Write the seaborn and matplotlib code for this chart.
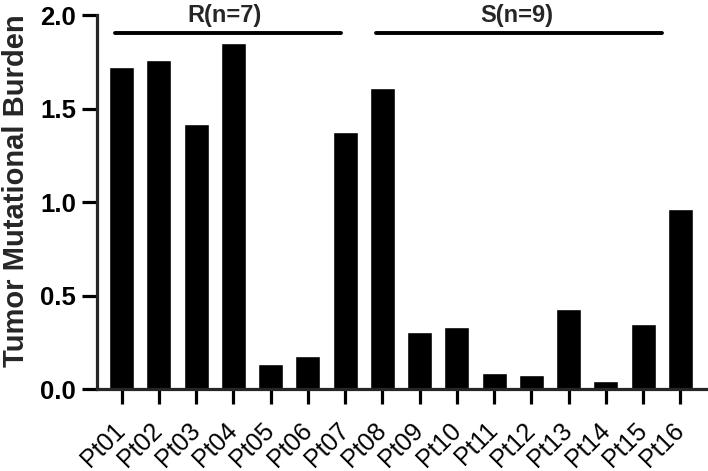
import matplotlib
matplotlib.use('Agg')
import matplotlib.pyplot as plt
import matplotlib.transforms as mtransforms
import seaborn as sns
import pandas as pd

# Data
patients = ['Pt01', 'Pt02', 'Pt03', 'Pt04', 'Pt05', 'Pt06', 'Pt07', 'Pt08',
            'Pt09', 'Pt10', 'Pt11', 'Pt12', 'Pt13', 'Pt14', 'Pt15', 'Pt16']
tmb = [1.72, 1.76, 1.42, 1.85, 0.134, 0.178, 1.375, 1.61,
       0.303, 0.333, 0.087, 0.073, 0.426, 0.041, 0.349, 0.962]
group_labels = ['R(n=7)', 'S(n=9)']
y_ticks = [0.0, 0.5, 1.0, 1.5, 2.0]

sns.set_style('ticks')
plt.rcParams['font.family'] = ['Liberation Sans', 'DejaVu Sans']

data = pd.DataFrame({'patient': patients, 'tmb': tmb})

fig = plt.figure(figsize=(7.08, 4.71), dpi=100)
ax = fig.add_axes([0.137, 0.174, 0.862, 0.794])

sns.barplot(data=data, x='patient', y='tmb', color='black', width=0.67,
            saturation=1, ax=ax)

ax.set_xlim(-0.66, 15.72)
ax.set_ylim(0, 2.0)
ax.set_yticks(y_ticks)
ax.set_yticklabels([f'{t:.1f}' for t in y_ticks], fontweight='bold', fontsize=18.5)
ax.set_ylabel('Tumor Mutational Burden', fontweight='bold', fontsize=21)
ax.yaxis.set_label_coords(-0.11, 0.53)
ax.set_xlabel('')

# rotated x labels, shifted a bit right of the ticks like the original
shift = mtransforms.ScaledTranslation(8 / 72, 0, fig.dpi_scale_trans)
for lab in ax.get_xticklabels():
    lab.set_rotation(45)
    lab.set_ha('right')
    lab.set_va('center')
    lab.set_rotation_mode('anchor')
    lab.set_fontsize(18)
    lab.set_transform(lab.get_transform() + shift)

sns.despine(ax=ax)
for side in ['left', 'bottom']:
    ax.spines[side].set_linewidth(2.3)
ax.tick_params(axis='both', length=11, width=2.3, colors='black')
ax.tick_params(axis='x', pad=16)
ax.tick_params(axis='y', pad=4)

# group bars with labels
ax.plot([-0.18, 5.9], [1.904, 1.904], color='black', lw=2.8, clip_on=False)
ax.plot([6.82, 14.5], [1.904, 1.904], color='black', lw=2.8, clip_on=False)
ax.text(2.77, 1.963, group_labels[0], ha='center', va='baseline', fontsize=17, fontweight='bold')
ax.text(10.6, 1.963, group_labels[1], ha='center', va='baseline', fontsize=17, fontweight='bold')

fig.savefig('out.png', dpi=100)
